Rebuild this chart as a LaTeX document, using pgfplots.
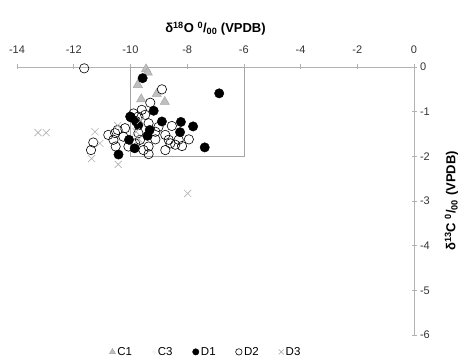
\documentclass[border=0pt]{standalone}
\usepackage{fontspec}
\setmainfont{Liberation Sans}
\usepackage{pgfplots}
\pgfplotsset{compat=1.18}
\begin{document}
\begin{tikzpicture}[x=1pt,y=1pt]
\path (-17,-28) rectangle (450,335);
\begin{axis}[
  at={(0,0)}, anchor=south west,
  width=397pt, height=268pt, scale only axis,
  xmin=-14, xmax=0, ymin=-6, ymax=0,
  axis x line=top, axis y line=right,
  axis line style={-, draw=gray!60, line width=0.5pt},
  xtick={-14,-12,...,0}, ytick={-6,-5,...,0},
  tick style={draw=gray!60, line width=0.5pt},
  major tick length=5pt, tick align=center,
  /pgf/number format/assume math mode=true,
  ticklabel style={font=\fontsize{11}{13}\selectfont, text=black!80},
  xticklabel shift=7pt,
  xlabel shift=4pt,
  ylabel shift=8pt,
  xlabel={\textbf{δ\textsuperscript{18}O \textsuperscript{0}/\textsubscript{00} (VPDB)}},
  ylabel={\textbf{δ\textsuperscript{13}C \textsuperscript{0}/\textsubscript{00} (VPDB)}},
  label style={font=\fontsize{13}{15}\selectfont},
  legend columns=5,
  legend style={at={(0.476,-0.063)}, anchor=center, draw=none, fill=none,
    font=\fontsize{11.5}{13}\selectfont, /tikz/every even column/.append style={column sep=18pt}},
  legend cell align=left,
]
\addplot[forget plot, draw=gray!70, line width=0.6pt] coordinates {(-10,0) (-6,0) (-6,-2) (-10,-2) (-10,0)};
% C1
\addplot[only marks, mark=triangle*, mark size=5.3pt, mark options={fill=gray!50, draw=gray!70, line width=0.5pt},
  legend image post style={mark size=3.4pt}] coordinates {
(-9.45,-0.05) (-9.39,-0.12) (-9.74,-0.40) (-9.62,-0.72) (-9.07,-0.60) (-8.79,-0.78)
};
\addlegendentry{C1}
\addlegendimage{only marks, mark=diamond*, mark size=2.5pt, mark options={fill=gray!8, draw=gray!8}}
\addlegendentry{C3}
% D1
\addplot[only marks, mark=*, mark size=4.7pt, mark options={fill=black, draw=black},
  legend image post style={mark size=3.2pt}] coordinates {
(-9.57,-0.25) (-6.87,-0.59) (-9.18,-0.98) (-9.98,-1.13) (-9.81,-1.21) (-9.72,-1.30)
(-8.89,-1.22) (-8.22,-1.23) (-7.79,-1.33) (-8.25,-1.46) (-9.32,-1.41) (-9.40,-1.54)
(-10.05,-1.63) (-9.85,-1.82) (-10.42,-1.96) (-7.38,-1.80) (-10.01,-1.11)
};
\addlegendentry{D1}
% D2
\addplot[only marks, mark=o, mark size=4.7pt, mark options={draw=black, line width=0.6pt},
  legend image post style={mark size=3.2pt}] coordinates {
(-11.63,-0.03) (-8.89,-0.50) (-9.30,-0.80)
(-9.60,-0.96) (-9.48,-1.07) (-9.72,-1.11) (-9.89,-1.04) (-9.36,-1.26) (-9.01,-1.34)
(-8.54,-1.32) (-8.77,-1.52) (-9.12,-1.62) (-8.30,-1.63) (-7.94,-1.62) (-8.59,-1.71)
(-8.77,-1.86) (-8.18,-1.77) (-9.36,-1.78) (-9.36,-1.95) (-9.66,-1.63) (-10.07,-1.78)
(-10.25,-1.56) (-10.54,-1.48) (-10.78,-1.52) (-10.60,-1.63) (-10.52,-1.78) (-11.31,-1.69)
(-11.39,-1.86) (-10.19,-1.37) (-10.45,-1.41) (-9.72,-1.48) (-9.12,-1.45) (-8.65,-1.63)
(-8.42,-1.74) (-9.54,-1.86) (-9.83,-1.71)
};
\addlegendentry{D2}
% D3
\addplot[only marks, mark=x, mark size=5pt, mark options={draw=gray!60, line width=0.6pt},
  legend image post style={mark size=3.5pt}] coordinates {
(-13.26,-1.47) (-12.97,-1.47) (-11.25,-1.45) (-11.37,-2.05) (-10.45,-1.31) (-10.43,-2.18)
(-11.08,-1.71) (-7.98,-2.83) (-9.80,-1.45) (-9.65,-1.20) (-9.70,-1.62)
};
\addlegendentry{D3}
\end{axis}
\end{tikzpicture}
\end{document}
